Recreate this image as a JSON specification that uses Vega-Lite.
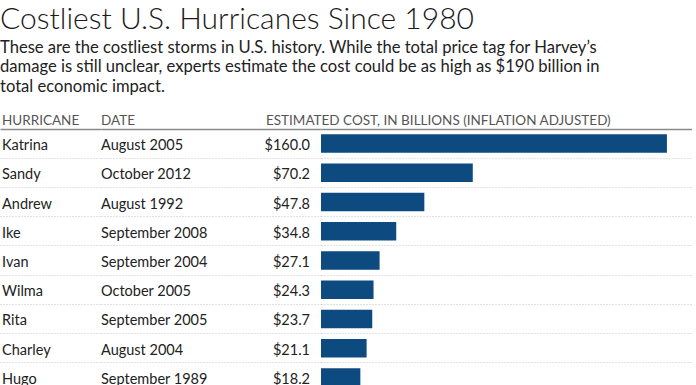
{
  "$schema": "https://vega.github.io/schema/vega-lite/v6.json",
  "padding": {"left": 0, "top": 4, "right": 0, "bottom": 0},
  "bounds": "flush",
  "spacing": 0,
  "title": {
    "text": "Costliest U.S. Hurricanes Since 1980",
    "subtitle": [
      "These are the costliest storms in U.S. history. While the total price tag for Harvey’s",
      "damage is still unclear, experts estimate the cost could be as high as $190 billion in",
      "total economic impact."
    ],
    "anchor": "start",
    "frame": "group",
    "font": "Lato",
    "fontSize": 30,
    "fontWeight": 300,
    "color": "#1a1a1a",
    "subtitleFont": "Lato",
    "subtitleFontSize": 16.6,
    "subtitleColor": "#222222",
    "subtitleLineHeight": 19.5,
    "subtitlePadding": 5,
    "offset": 18
  },
  "datasets": {
    "storms": [
      {"name": "Katrina", "date": "August 2005", "cost": 160.0},
      {"name": "Sandy", "date": "October 2012", "cost": 70.2},
      {"name": "Andrew", "date": "August 1992", "cost": 47.8},
      {"name": "Ike", "date": "September 2008", "cost": 34.8},
      {"name": "Ivan", "date": "September 2004", "cost": 27.1},
      {"name": "Wilma", "date": "October 2005", "cost": 24.3},
      {"name": "Rita", "date": "September 2005", "cost": 23.7},
      {"name": "Charley", "date": "August 2004", "cost": 21.1},
      {"name": "Hugo", "date": "September 1989", "cost": 18.2}
    ]
  },
  "config": {
    "view": {"stroke": null},
    "font": "Lato",
    "title": {"anchor": "start", "frame": "group", "fontSize": 13.5, "fontWeight": "normal", "color": "#555555", "offset": 2, "font": "Lato"},
    "axisY": {
      "labels": false,
      "ticks": false,
      "domain": false,
      "title": null,
      "grid": true,
      "bandPosition": 0,
      "gridColor": {"condition": {"test": "datum.value === 'Katrina'", "value": "#8a8a8a"}, "value": "#c4c4c4"},
      "gridDash": {"condition": {"test": "datum.value === 'Katrina'", "value": []}, "value": [1, 2]},
      "gridWidth": {"condition": {"test": "datum.value === 'Katrina'", "value": 1.3}, "value": 1}
    }
  },
  "hconcat": [
    {
      "width": 101,
      "height": 263,
      "data": {"name": "storms"},
      "title": {"text": "HURRICANE", "dx": 2},
      "mark": {"type": "text", "align": "left", "baseline": "middle", "dy": 2.5, "fontSize": 14.5, "color": "#222222"},
      "encoding": {
        "x": {"value": 2},
        "y": {"field": "name", "type": "nominal", "sort": null, "scale": {"type": "band", "paddingInner": 0, "paddingOuter": 0}},
        "text": {"field": "name"}
      }
    },
    {
      "width": 220,
      "height": 263,
      "data": {"name": "storms"},
      "title": {"text": "DATE"},
      "mark": {"type": "text", "align": "left", "baseline": "middle", "dy": 2.5, "fontSize": 14.5, "color": "#222222"},
      "encoding": {
        "x": {"value": 0},
        "y": {"field": "name", "type": "nominal", "sort": null, "scale": {"type": "band", "paddingInner": 0, "paddingOuter": 0}},
        "text": {"field": "date"}
      }
    },
    {
      "width": 371,
      "height": 263,
      "data": {"name": "storms"},
      "title": {"text": "ESTIMATED COST, IN BILLIONS (INFLATION ADJUSTED)", "dx": -55},
      "encoding": {
        "y": {"field": "name", "type": "nominal", "sort": null, "scale": {"type": "band", "paddingInner": 0, "paddingOuter": 0}}
      },
      "layer": [
        {
          "mark": {"type": "bar", "size": 18.5, "color": "#0c4a80"},
          "encoding": {
            "x": {"field": "cost", "type": "quantitative", "scale": {"domain": [0, 171.6], "nice": false}, "axis": null}
          }
        },
        {
          "mark": {"type": "text", "align": "right", "baseline": "middle", "dy": 2.5, "dx": -11, "fontSize": 14.5, "color": "#222222"},
          "encoding": {
            "x": {"datum": 0, "type": "quantitative"},
            "text": {"field": "cost", "type": "quantitative", "format": "$.1f"}
          }
        }
      ]
    }
  ]
}
